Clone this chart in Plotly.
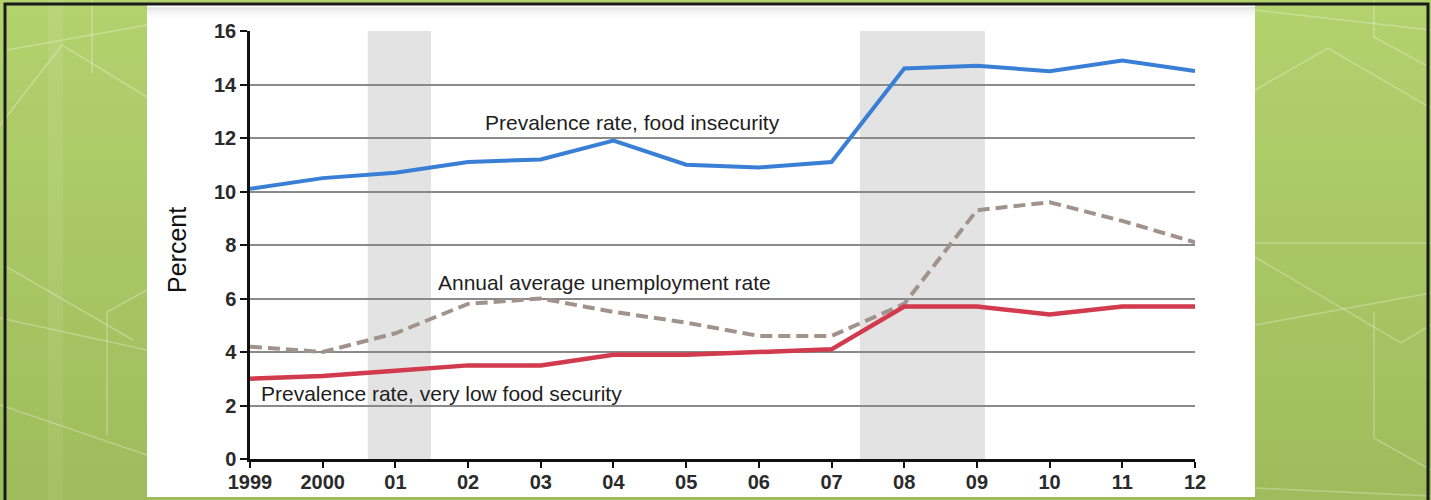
import plotly.graph_objects as go

years = [1999, 2000, 2001, 2002, 2003, 2004, 2005, 2006, 2007, 2008, 2009, 2010, 2011, 2012]
tick_labels = ["1999", "2000", "01", "02", "03", "04", "05", "06", "07", "08", "09", "10", "11", "12"]
food_insecurity = [10.1, 10.5, 10.7, 11.1, 11.2, 11.9, 11.0, 10.9, 11.1, 14.6, 14.7, 14.5, 14.9, 14.5]
very_low_food_security = [3.0, 3.1, 3.3, 3.5, 3.5, 3.9, 3.9, 4.0, 4.1, 5.7, 5.7, 5.4, 5.7, 5.7]
unemployment = [4.2, 4.0, 4.7, 5.8, 6.0, 5.5, 5.1, 4.6, 4.6, 5.8, 9.3, 9.6, 8.9, 8.1]
recessions = [(2000.62, 2001.49), (2007.39, 2009.11)]

W, H = 1431, 500
x0p, x1p = 250 / W, 1195 / W
y0p, y1p = 1 - 459 / H, 1 - 31 / H


def px(x):
    return x / W


def py(y):
    return 1 - y / H


fig = go.Figure()

fig.add_trace(go.Scatter(x=years, y=unemployment, mode="lines",
                         line=dict(color="#a1928c", width=4, dash="12px,6px"), hoverinfo="skip"))
fig.add_trace(go.Scatter(x=years, y=very_low_food_security, mode="lines",
                         line=dict(color="#d23a4e", width=4.5), hoverinfo="skip"))
fig.add_trace(go.Scatter(x=years, y=food_insecurity, mode="lines",
                         line=dict(color="#3a7fd6", width=4), hoverinfo="skip"))

shapes = []
# green gradient background bands
top_c, bot_c = (178, 210, 110), (158, 188, 91)
n = 25
for i in range(n):
    t = i / (n - 1)
    c = tuple(round(top_c[k] + (bot_c[k] - top_c[k]) * t) for k in range(3))
    shapes.append(dict(type="rect", xref="paper", yref="paper", x0=0, x1=1,
                       y0=1 - (i + 1) / n, y1=1 - i / n, fillcolor="rgb(%d,%d,%d)" % c,
                       line=dict(width=0), layer="below"))
# faint lighter vertical stripe on the left
shapes.append(dict(type="rect", xref="paper", yref="paper", x0=px(48), x1=px(63), y0=0, y1=1,
                   fillcolor="rgba(255,255,255,0.08)", line=dict(width=0), layer="below"))
# decorative translucent hexagon-like lines on green
deco = [
    [(7, 50), (147, 25)], [(0, 125), (62, 45), (147, 97)], [(92, 0), (92, 73)],
    [(7, 267), (133, 340)], [(0, 318), (147, 350)], [(107, 435), (107, 312), (147, 290)],
    [(0, 405), (147, 455)],
    [(1255, 10), (1431, 30)], [(1255, 90), (1328, 48), (1431, 108)],
    [(1255, 243), (1431, 243)], [(1255, 257), (1401, 343), (1431, 325)],
    [(1255, 325), (1431, 293)], [(1374, 312), (1374, 438), (1431, 470)],
    [(1374, 0), (1374, 37), (1431, 68)], [(1255, 488), (1431, 496)],
]
for pts in deco:
    path = "M " + " L ".join(f"{px(x)} {py(y)}" for x, y in pts)
    shapes.append(dict(type="path", xref="paper", yref="paper", path=path,
                       line=dict(color="rgba(255,255,255,0.28)", width=1.5), layer="below"))
# white panel
shapes.append(dict(type="rect", xref="paper", yref="paper", x0=px(147), x1=px(1255),
                   y0=py(497), y1=py(5), fillcolor="white", line=dict(width=0), layer="below"))
# soft shadow at top of panel
for i, a in enumerate([0.10, 0.07, 0.05, 0.03, 0.015]):
    shapes.append(dict(type="rect", xref="paper", yref="paper", x0=px(147), x1=px(1255),
                       y0=py(7 + 2 * (i + 1)), y1=py(7 + 2 * i), fillcolor="rgba(0,0,0,%g)" % a,
                       line=dict(width=0), layer="below"))
# black frame
shapes.append(dict(type="path", xref="paper", yref="paper",
                   path=f"M {px(5)} {py(500)} L {px(5)} {py(4)} L {px(1428)} {py(4)} L {px(1428)} {py(500)}",
                   line=dict(color="#1a1a1a", width=3), layer="above"))
# recession shading
for a, b in recessions:
    shapes.append(dict(type="rect", xref="x", yref="y", x0=a, x1=b, y0=0, y1=16,
                       fillcolor="#e3e3e3", line=dict(width=0), layer="below"))

ann_font = dict(size=21, color="#1e1e1e")
annotations = [
    dict(text="Prevalence rate, food insecurity", x=px(632), y=py(122), xref="paper", yref="paper",
         showarrow=False, xanchor="center", yanchor="middle", font=ann_font),
    dict(text="Annual average unemployment rate", x=px(604), y=py(282), xref="paper", yref="paper",
         showarrow=False, xanchor="center", yanchor="middle", font=ann_font),
    dict(text="Prevalence rate, very low food security", x=px(259), y=py(393), xref="paper", yref="paper",
         showarrow=False, xanchor="left", yanchor="middle", font=ann_font),
    dict(text="Percent", x=px(177), y=py(250), xref="paper", yref="paper",
         showarrow=False, textangle=-90, xanchor="center", yanchor="middle",
         font=dict(size=25, color="#111")),
]

tick_font = dict(size=20, color="#2a2a2a", weight="bold")

fig.update_layout(
    template="none",
    width=W, height=H, margin=dict(l=0, r=0, t=0, b=0, pad=0, autoexpand=False),
    paper_bgcolor="#a8c765", plot_bgcolor="rgba(0,0,0,0)",
    showlegend=False, shapes=shapes, annotations=annotations,
    font=dict(family="Liberation Sans, Arial, sans-serif", color="#222"),
    xaxis=dict(domain=[x0p, x1p], range=[1999, 2012], tickvals=years, ticktext=tick_labels,
               automargin=False, showgrid=False, zeroline=False, showline=True,
               linecolor="#111", linewidth=2.5,
               ticks="outside", ticklen=6, tickwidth=2, tickcolor="#111",
               ticklabelstandoff=-3, tickfont=tick_font),
    yaxis=dict(domain=[y0p, y1p], range=[0, 16], tickvals=list(range(0, 17, 2)),
               automargin=False, showgrid=True, gridcolor="#8a8a8a", gridwidth=1.5, zeroline=False,
               showline=True, linecolor="#111", linewidth=2.5,
               ticks="outside", ticklen=7, tickwidth=2, tickcolor="#111",
               tickfont=tick_font),
)

fig.write_html("out.html")
